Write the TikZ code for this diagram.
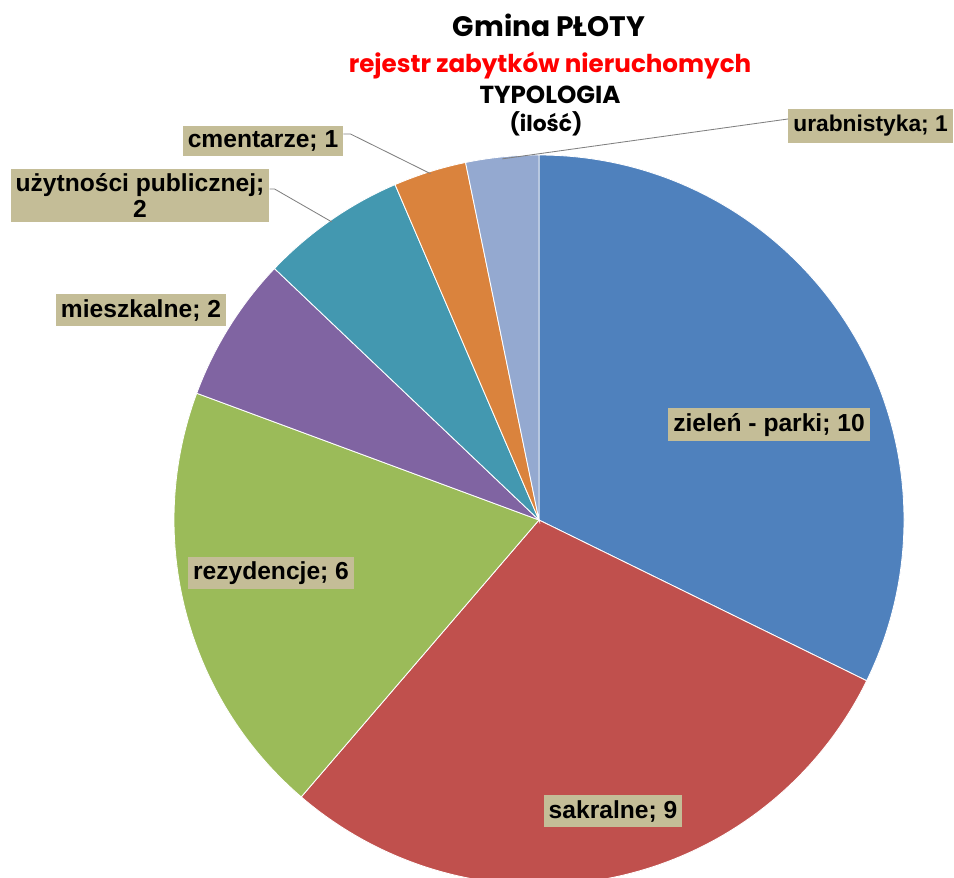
\documentclass[tikz,border=0pt]{standalone}
\usepackage{fontspec}
\setmainfont{Liberation Sans}
\newfontfamily\titlefont{Poppins}
\usetikzlibrary{positioning}
\definecolor{parkblue}{HTML}{4F81BD}
\definecolor{sakred}{HTML}{C0504D}
\definecolor{rezgreen}{HTML}{9BBB59}
\definecolor{mieszpurple}{HTML}{8064A2}
\definecolor{uzytteal}{HTML}{4398B0}
\definecolor{cmentorange}{HTML}{DA833D}
\definecolor{urbblue}{HTML}{94A9D0}
\definecolor{labeltan}{HTML}{C4BD97}
\definecolor{leadgray}{HTML}{808080}
\definecolor{titlered}{HTML}{FF0000}
\begin{document}
\begin{tikzpicture}[x=0.025cm, y=0.025cm,
		slice/.style={draw=white, line width=0.6pt},
		lbl/.style={fill=labeltan, font=\bfseries\fontsize{17.5}{18}\selectfont, inner xsep=3.5pt, inner ysep=3.5pt},
		leader/.style={draw=leadgray, line width=0.6pt},
		ttl/.style={anchor=base, font=\titlefont\bfseries}]
			\useasboundingbox (0,0) rectangle (954,877);
			%pie slices, 31 in total
			\coordinate (ctr) at (539,357);
			\foreach \a/\b/\col in {90/-26.13/parkblue, -26.13/-130.65/sakred, -130.65/-200.32/rezgreen, -200.32/-223.55/mieszpurple, -223.55/-246.77/uzytteal, -246.77/-258.39/cmentorange, -258.39/-270/urbblue}{
				\filldraw[slice, fill=\col] (ctr) -- ++(\a:365) arc (\a:\b:365) -- cycle;
			}
			
			%titles
			\node[ttl, font=\titlefont\bfseries\fontsize{20}{24}\selectfont] (title) at (549,840) {Gmina PŁOTY};
			\node[ttl, text=titlered, font=\titlefont\bfseries\fontsize{17.5}{20}\selectfont] (subtitle) at (550,804) {rejestr zabytków nieruchomych};
			\node[ttl, font=\titlefont\bfseries\fontsize{17.5}{20}\selectfont] (typ) at (550,773) {TYPOLOGIA};
			\node[ttl, font=\titlefont\bfseries\fontsize{15.5}{18}\selectfont] (ilosc) at (546,745) {(ilość)};
			
			%labels
			\node[lbl] (park) at (769,452) {zieleń - parki; 10};
			\node[lbl] (sak) at (613,66) {sakralne; 9};
			\node[lbl] (rez) at (271,304) {rezydencje; 6};
			\node[lbl] (miesz) at (141,567) {mieszkalne; 2};
			\node[lbl, align=center] (uzyt) at (140,681.5) {użytności publicznej;\\2};
			\node[lbl] (cment) at (263,736) {cmentarze; 1};
			\node[lbl, anchor=east, font=\bfseries\fontsize{16.2}{18}\selectfont, inner ysep=4.2pt] (urb) at (953,751) {urabnistyka; 1};
			
			%leader lines
			\coordinate (uzyttip) at ([shift={(124.8:363)}]ctr);
			\coordinate (cmtip) at ([shift={(107.4:363)}]ctr);
			\coordinate (urbtip) at ([shift={(95.8:363)}]ctr);
			\draw[leader] ([yshift=4.6pt]uzyt.east) -- ++(5,0) -- (uzyttip);
			\draw[leader] ([yshift=5pt]cment.east) -- ++(7,0) -- (cmtip);
			\draw[leader] ([yshift=5pt]urb.west) -- (urbtip);
		\end{tikzpicture}
\end{document}
